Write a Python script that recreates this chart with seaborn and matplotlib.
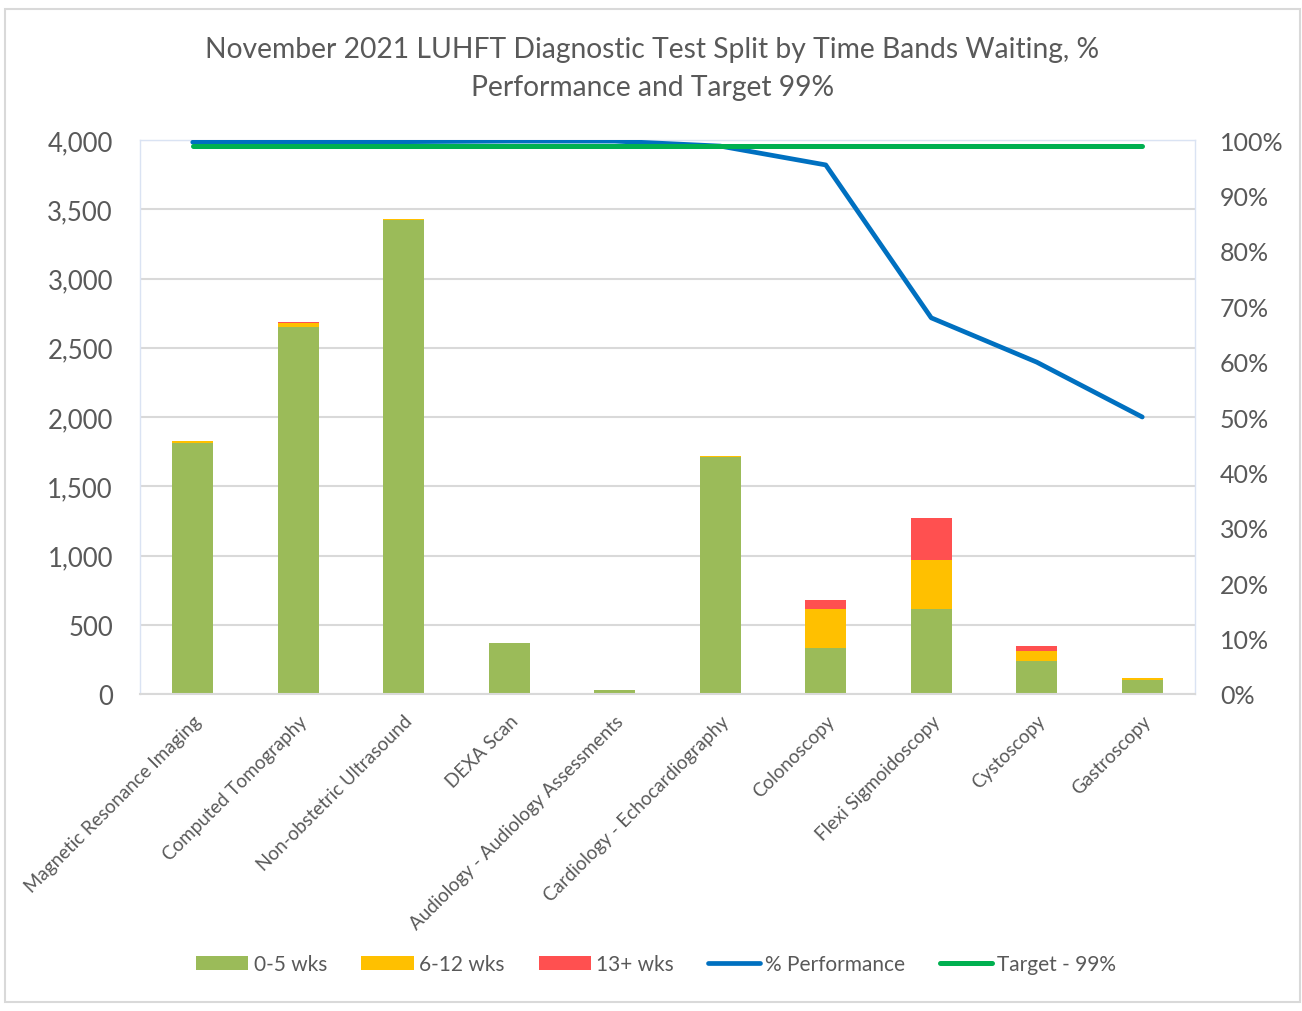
import matplotlib
matplotlib.use("Agg")
import matplotlib.pyplot as plt
from matplotlib.patches import Rectangle, Patch
from matplotlib.lines import Line2D
from matplotlib.ticker import FuncFormatter, PercentFormatter
import seaborn as sns
import pandas as pd

# Diagnostic tests, November 2021
categories = [
    "Magnetic Resonance Imaging",
    "Computed Tomography",
    "Non-obstetric Ultrasound",
    "DEXA Scan",
    "Audiology - Audiology Assessments",
    "Cardiology - Echocardiography",
    "Colonoscopy",
    "Flexi Sigmoidoscopy",
    "Cystoscopy",
    "Gastroscopy",
]
wks_0_5 = [1815, 2650, 3425, 366, 29, 1710, 330, 614, 238, 101]
wks_6_12 = [10, 30, 6, 0, 0, 8, 281, 353, 72, 12]
wks_13_plus = [2, 8, 1, 0, 0, 1, 65, 304, 37, 0]
performance = [0.996, 0.997, 0.997, 0.998, 0.998, 0.989, 0.955, 0.679, 0.599, 0.500]
target = [0.99] * len(categories)

series_labels = ["0-5 wks", "6-12 wks", "13+ wks", "% Performance", "Target - 99%"]
title = "November 2021 LUHFT Diagnostic Test Split by Time Bands Waiting, %\nPerformance and Target 99%"

C_GREEN = "#9BBB59"
C_YELLOW = "#FFC000"
C_RED = "#FF5050"
C_BLUE = "#0070C0"
C_TARGET = "#00B050"
C_TEXT = "#595959"
C_GRID = "#D9D9D9"

sns.set_theme(style="white")
plt.rcParams["font.family"] = ["Lato", "DejaVu Sans"]

df = pd.DataFrame({
    "test": categories,
    "a": wks_0_5,
    "b": wks_6_12,
    "c": wks_13_plus,
    "perf": performance,
    "target": target,
})
df["ab"] = df["a"] + df["b"]
df["abc"] = df["ab"] + df["c"]
df["pos"] = range(len(df))

fig = plt.figure(figsize=(13.02, 10.12), dpi=100)
ax = fig.add_axes([140 / 1302, 1 - 695 / 1012, 1055 / 1302, 554 / 1012])

# Stacked columns: draw cumulative totals back to front
for col, colr in [("abc", C_RED), ("ab", C_YELLOW), ("a", C_GREEN)]:
    sns.barplot(data=df, x="test", y=col, color=colr, width=0.39,
                saturation=1, ax=ax, edgecolor="none", linewidth=0)

ax.set_ylim(0, 4000)
ax.set_xlim(-0.5, len(categories) - 0.5)
ax.set_yticks(range(0, 4001, 500))
ax.yaxis.set_major_formatter(FuncFormatter(lambda v, p: f"{int(v):,}"))
ax.yaxis.grid(True, color=C_GRID, linewidth=1.5)
ax.set_axisbelow(True)
ax.set_xlabel("")
ax.set_ylabel("")
ax.tick_params(axis="y", labelsize=18.5, colors=C_TEXT, length=0, pad=19.5)
ax.tick_params(axis="x", length=0, pad=13)
ax.set_xticks(range(len(categories)))
ax.set_xticklabels(categories, rotation=45, ha="right", rotation_mode="anchor",
                   fontsize=13.5, color=C_TEXT)
for side in ["left", "top", "right"]:
    ax.spines[side].set_color("#DAE3F3")
    ax.spines[side].set_linewidth(1.0)
ax.spines["bottom"].set_color(C_GRID)
ax.spines["bottom"].set_linewidth(1.5)

# Secondary axis for percentages
ax2 = ax.twinx()
sns.lineplot(data=df, x="pos", y="perf", color=C_BLUE, linewidth=3.4, ax=ax2,
             solid_capstyle="round", zorder=3)
sns.lineplot(data=df, x="pos", y="target", color=C_TARGET, linewidth=3.6, ax=ax2,
             solid_capstyle="round", zorder=4)
ax2.set_ylim(0, 1)
ax2.set_xlim(-0.5, len(categories) - 0.5)
ax2.set_yticks([i / 10 for i in range(11)])
ax2.yaxis.set_major_formatter(PercentFormatter(1.0, decimals=0))
ax2.tick_params(axis="y", labelsize=18, colors=C_TEXT, length=0, pad=18)
ax2.set_ylabel("")
ax2.set_xlabel("")
for side in ["left", "top", "right", "bottom"]:
    ax2.spines[side].set_visible(False)

fig.text(0.501, 1 - 69 / 1012, title, ha="center", va="center",
         fontsize=20.3, color=C_TEXT, linespacing=1.55)

handles = [
    Patch(facecolor=C_GREEN, edgecolor="none"),
    Patch(facecolor=C_YELLOW, edgecolor="none"),
    Patch(facecolor=C_RED, edgecolor="none"),
    Line2D([], [], color=C_BLUE, linewidth=3.4, solid_capstyle="round"),
    Line2D([], [], color=C_TARGET, linewidth=3.6, solid_capstyle="round"),
]
fig.legend(handles, series_labels, loc="center", bbox_to_anchor=(0.504, 1 - 965 / 1012),
           ncol=5, frameon=False, fontsize=15, labelcolor=C_TEXT,
           handlelength=2.5, handleheight=0.65, handletextpad=0.25, columnspacing=1.65)

# Chart frame
fig.add_artist(Rectangle((5 / 1302, 1 - 1003 / 1012), 1295 / 1302, 993 / 1012,
                         transform=fig.transFigure, fill=False,
                         edgecolor=C_GRID, linewidth=1.5))

fig.savefig("out.png", dpi=100)
